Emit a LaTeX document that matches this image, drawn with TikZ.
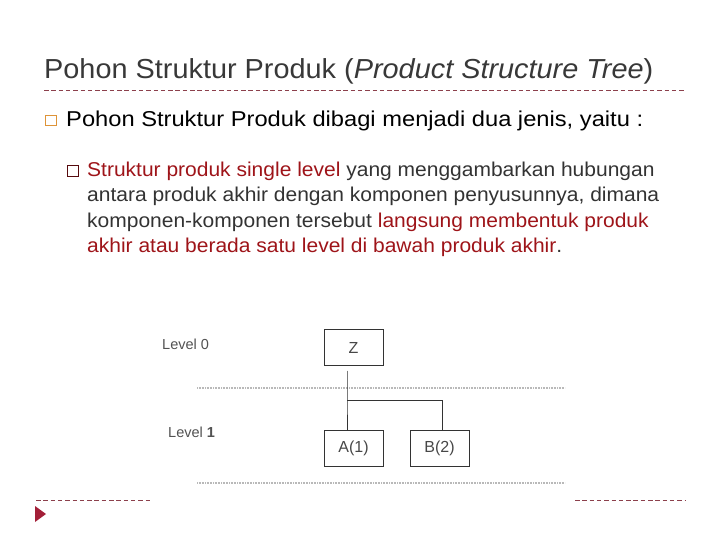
\documentclass[tikz,border=0pt]{standalone}
\usepackage{fontspec}
\setmainfont{Liberation Sans}
\usepackage{graphicx}
\usetikzlibrary{calc,positioning}
\definecolor{judul}{rgb}{0.22,0.22,0.22}
\definecolor{merah}{rgb}{0.62,0.08,0.10}
\definecolor{oranye}{rgb}{0.87,0.58,0.22}
\definecolor{garis}{rgb}{0.55,0.25,0.30}
\definecolor{segitiga}{rgb}{0.64,0.12,0.22}
\definecolor{abu}{rgb}{0.2,0.2,0.2}
\def\merah(#1){\textcolor{merah}{#1}}
\def\lebar#1{\scalebox{1.05}[1]{#1}}

\begin{document}
\begin{tikzpicture}[x=1pt,y=-1pt,
 teks/.style={anchor=base west,inner sep=0pt},
 isi/.style={anchor=base west,inner sep=0pt,font=\fontsize{20}{25}\selectfont,text=abu},
 level/.style={anchor=base west,inner sep=0pt,font=\fontsize{14.5}{17}\selectfont,text=abu!85},
 kotak/.style={draw=abu,minimum width=59pt,minimum height=36pt,inner sep=0pt,font=\fontsize{16}{19}\selectfont,text=abu!90},
 putus/.style={draw=garis,line width=0.8pt,dash pattern=on 4.5pt off 2.8pt},
 titik/.style={draw=gray!55,line width=1.2pt,dash pattern=on 1pt off 0.6pt}]
\useasboundingbox (0,0) rectangle (720,540);
% judul
\node[teks] (judul) at (44,79) {\resizebox{609pt}{\height}{\fontsize{27.5}{32}\selectfont\color{judul}Pohon Struktur Produk ({\itshape Product Structure Tree})}};
\draw[putus] (44,90) -- (685,90);
% poin 1
\node (kotak1) [draw=oranye, line width=1pt, minimum size=10.5pt, inner sep=0pt] at (51,120.5) {};
\node[teks] (poin1) at (66,127) {\resizebox{577pt}{\height}{\fontsize{21.5}{25}\selectfont Pohon Struktur Produk dibagi menjadi dua jenis, yaitu :}};
% sub poin
\node (kotak2) [draw=merah!55!black, line width=0.7pt, minimum size=11pt, inner sep=0pt] at (73,171) {};
\node[isi] (baris1) at (87,177) {\lebar{\merah(Struktur produk single level) yang menggambarkan hubungan}};
\node[isi] (baris2) at (87,202) {\lebar{antara produk akhir dengan komponen penyusunnya, dimana}};
\node[isi] (baris3) at (87,227) {\lebar{komponen-komponen tersebut \merah(langsung membentuk produk)}};
\node[isi] (baris4) at (87,252) {\lebar{\merah(akhir atau berada satu level di bawah produk akhir).}};
% pohon single level
\node[level] (lv0) at (162,349) {Level 0};
\node[level] (lv1) at (168,437) {Level \textbf{1}};
\draw[titik] (197,388) -- (565,388);
\draw[titik] (197,483) -- (565,483);
\draw (353.5,347.5) node (z) [kotak] {Z};
\draw (353.5,448.5) node (a) [kotak] {A(1)};
\draw (439.5,448.5) node (b) [kotak] {B(2)};
\coordinate (cabang) at (347,400);
\coordinate (ujung) at (442,400);
\draw[abu] ($(z.south)+(-6.5,5)$) -- (cabang) -- (cabang |- a.north);
\draw[abu] (cabang) -- (ujung) -- (ujung |- b.north);
% bawah
\draw[putus] (36,500.5) -- (152,500.5);
\draw[putus] (575,500.5) -- (685,500.5);
\fill[segitiga] (35,506) -- (46,514) -- (35,522) -- cycle;
\end{tikzpicture}
\end{document}
